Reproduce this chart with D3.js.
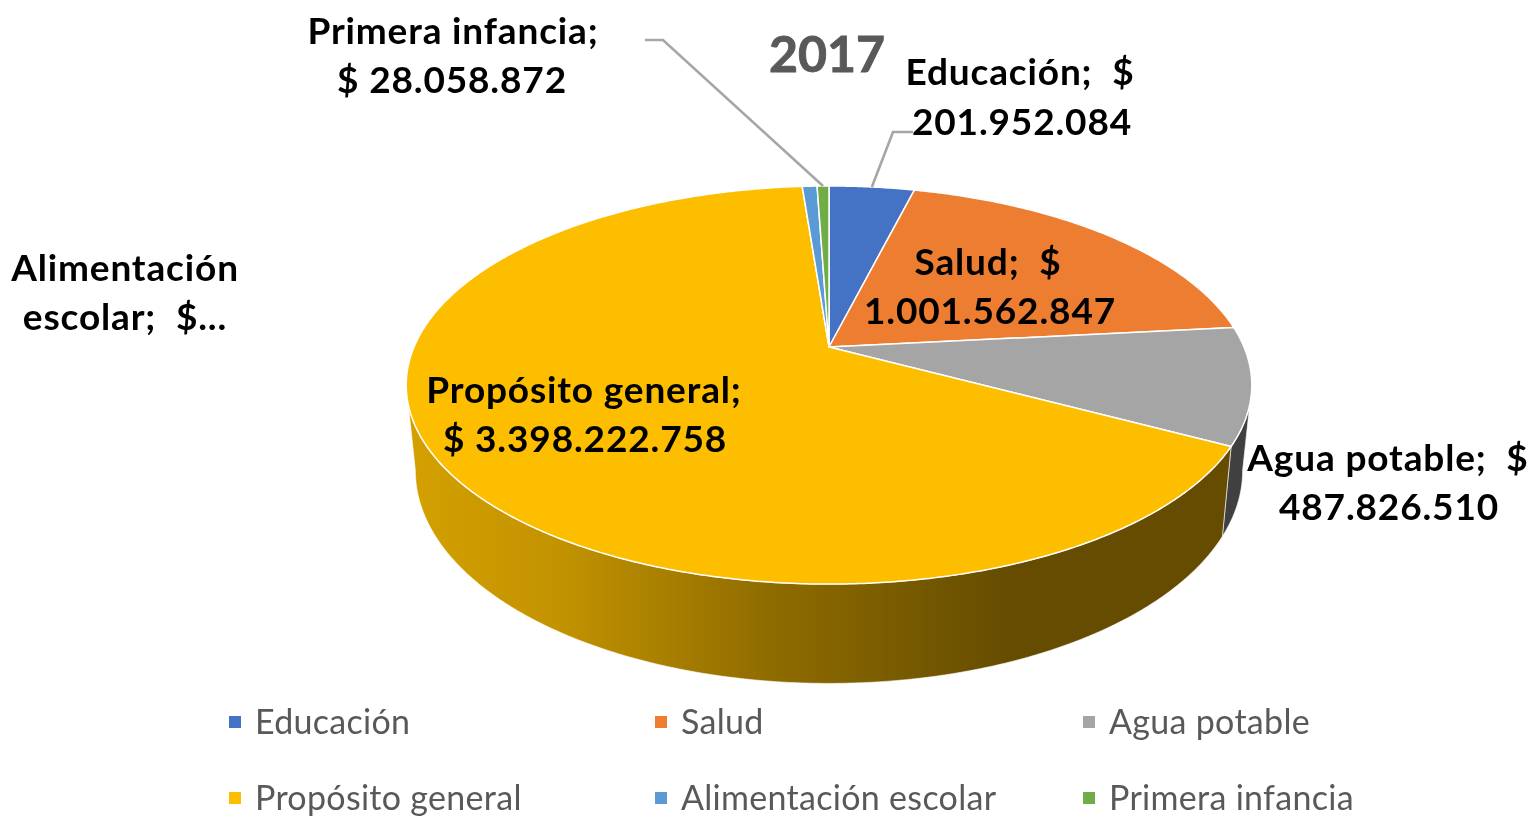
<!DOCTYPE html>
<html><head><meta charset="utf-8">
<script src="https://cdn.jsdelivr.net/npm/d3@7"></script>
<style>
html,body{margin:0;padding:0;background:#fff;overflow:hidden}
svg{display:block;filter:blur(0.6px)}
text{font-family:Lato,"Open Sans",sans-serif;white-space:pre}
</style></head><body>
<svg id="c" width="1531" height="818"></svg>
<script>
const categories = ["Educación","Salud","Agua potable","Propósito general","Alimentación escolar","Primera infancia"];
const values = [201952084,1001562847,487826510,3398222758,35000000,28058872];
const colors = ["#4472C4","#ED7D31","#A5A5A5","#FDBE00","#5B9BD5","#70AD47"];
const title = "2017";

const W=1531,H=818;
const svg=d3.select("#c");
const deg=Math.PI/180;
// perspective projection of the pie disc
const top_={cx:829,cy:347,A:415,B:191.8,k:0.191};
const bot_={cx:829,cy:430,A:406,B:205,k:0.191};
const proj=(p,a)=>{const w=1+p.k*Math.cos(a);return [p.cx+p.A*Math.sin(a)/w,p.cy-p.B*Math.cos(a)/w];};
const arcs=d3.pie().sort(null).value(d=>d)(values);
const samples=(a0,a1)=>{const n=Math.max(2,Math.ceil((a1-a0)/(0.5*deg)));return d3.range(n+1).map(i=>a0+(a1-a0)*i/n);};
const line=d3.line();

// gradient of the big slice wall
const defs=svg.append("defs");
const g=defs.append("linearGradient").attr("id","wall").attr("gradientUnits","userSpaceOnUse")
  .attr("x1",410).attr("x2",1010).attr("y1",0).attr("y2",0);
[[0,"#D4A000"],[0.25,"#C29200"],[0.6,"#8F6C00"],[1,"#654C00"]].forEach(s=>g.append("stop").attr("offset",s[0]).attr("stop-color",s[1]));

// walls: only the front half of the cylinder is visible
const frontStart=101*deg,frontEnd=259*deg;
const wallColor=["#000","#000","#404040","url(#wall)","#000","#000"];
svg.append("g").selectAll("path").data(arcs.filter(d=>d.endAngle>frontStart&&d.startAngle<frontEnd)).join("path")
 .attr("d",d=>{
   const a0=Math.max(d.startAngle,frontStart),a1=Math.min(d.endAngle,frontEnd);
   const s=samples(a0,a1);
   return line(s.map(a=>proj(top_,a)).concat(s.slice().reverse().map(a=>proj(bot_,a))))+"Z";
 })
 .attr("fill",d=>wallColor[d.index]).attr("stroke","#fff").attr("stroke-width",0.6);

// top face
svg.append("g").selectAll("path").data(arcs).join("path")
 .attr("d",d=>line([[top_.cx,top_.cy]].concat(samples(d.startAngle,d.endAngle).map(a=>proj(top_,a))))+"Z")
 .attr("fill",d=>colors[d.index]).attr("stroke","#fff").attr("stroke-width",1.5).attr("stroke-linejoin","round");

// leader lines
const mid=d=>(d.startAngle+d.endAngle)/2;
const leaders=[{i:0,p:[[913,132],[893,132]]},{i:5,p:[[645,40],[663,40]]}];
svg.append("g").selectAll("path").data(leaders).join("path")
 .attr("d",d=>line(d.p.concat([proj(top_,mid(arcs[d.i]))])))
 .attr("fill","none").attr("stroke","#A6A6A6").attr("stroke-width",2.6);

// title
svg.append("text").attr("x",827).attr("y",53).attr("text-anchor","middle").attr("dominant-baseline","central")
 .attr("font-size",50).attr("font-weight",700).attr("fill","#595959").attr("stroke","#595959").attr("stroke-width",0.9).text(title);

// labels
const loc=d3.formatLocale({decimal:",",thousands:".",grouping:[3],currency:["$",""]});
const fmt=loc.format(",d");
const labels=[
 [[`Educación;  $`,1020,70],[fmt(values[0]),1022,120]],
 [[`Salud;  $`,988,260],[fmt(values[1]),990,309]],
 [[`Agua potable;  $`,1388,456],[fmt(values[2]),1389,505]],
 [[`Propósito general;`,584,388],[`$ ${fmt(values[3])}`,585,437]],
 [[`Alimentación`,125,266],[`escolar;  $...`,125,315]],
 [[`Primera infancia;`,453,29],[`$ ${fmt(values[5])}`,452,78]]
];
svg.append("g").selectAll("text").data(labels.flat()).join("text")
 .attr("x",d=>d[1]).attr("y",d=>d[2]).attr("text-anchor","middle").attr("dominant-baseline","central")
 .attr("font-size",37).attr("letter-spacing",0.85).attr("font-weight",700).attr("fill","#000").text(d=>d[0]);

// legend
const lx=[229,655,1083],ly=[722,798];
const lg=svg.append("g").selectAll("g").data(categories).join("g")
 .attr("transform",(d,i)=>`translate(${lx[i%3]},${ly[Math.floor(i/3)]})`);
lg.append("rect").attr("x",0).attr("y",-6).attr("width",12).attr("height",12).attr("fill",(d,i)=>colors[i]);
lg.append("text").attr("x",26).attr("y",-2).attr("dominant-baseline","central").attr("font-size",34).attr("letter-spacing",0.3)
 .attr("fill","#595959").text(d=>d);
</script>
</body></html>
